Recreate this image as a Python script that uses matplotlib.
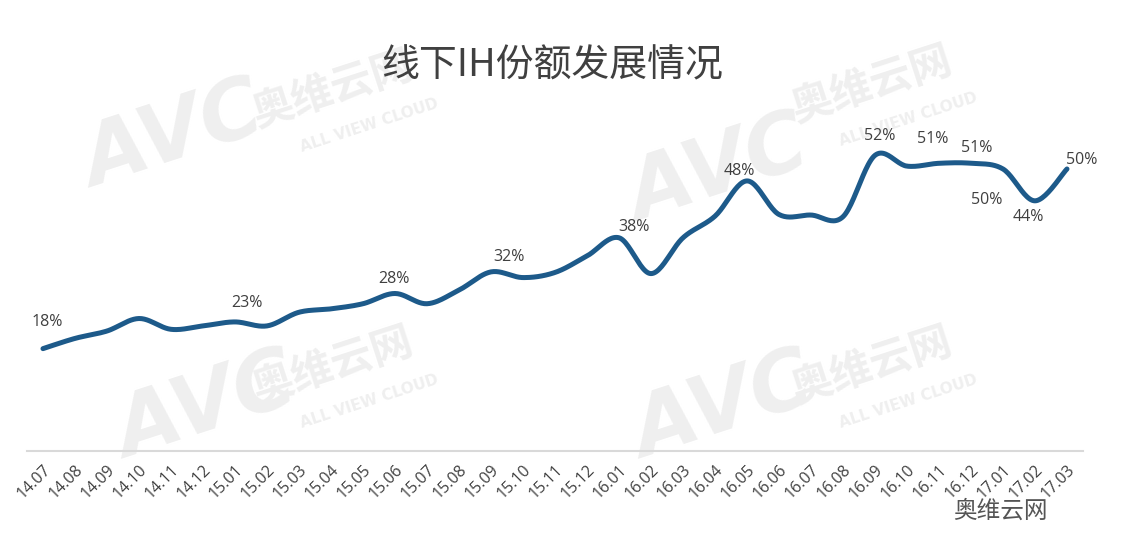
import numpy as np
import matplotlib.pyplot as plt

plt.rcParams['font.family'] = ['Noto Sans CJK SC', 'DejaVu Sans']

# monthly data, 14.07 .. 17.03
months = ['14.07', '14.08', '14.09', '14.10', '14.11', '14.12',
          '15.01', '15.02', '15.03', '15.04', '15.05', '15.06',
          '15.07', '15.08', '15.09', '15.10', '15.11', '15.12',
          '16.01', '16.02', '16.03', '16.04', '16.05', '16.06',
          '16.07', '16.08', '16.09', '16.10', '16.11', '16.12',
          '17.01', '17.02', '17.03']
share = [18.0, 19.8, 21.1, 23.3, 21.4, 22.0,
         22.7, 22.0, 24.4, 25.0, 25.9, 27.7,
         25.9, 28.3, 31.5, 30.5, 31.4, 34.3,
         37.5, 31.2, 37.5, 41.3, 47.5, 41.6,
         41.5, 41.2, 52.0, 50.1, 50.6, 50.6,
         49.6, 44.0, 49.6]
labeled = [0, 6, 11, 14, 18, 22, 26, 28, 29, 30, 31, 32]

# label offsets in pixels (dx, dy), tuned by eye
offsets = {0: (4, 27), 6: (12, 19), 11: (-1, 14), 14: (18, 15),
           18: (15, 11), 22: (-8, 10), 26: (5, 19), 28: (-6, 24),
           29: (6, 15), 30: (-16, -31), 31: (-7, -16), 32: (15, 9)}

line_color = '#1d5a8a'
text_color = '#404040'


def catmull_rom(x, y, steps=24):
    # smoothed line like excel's "smooth line" option
    x = np.asarray(x, float)
    y = np.asarray(y, float)
    px = np.concatenate([[x[0]], x, [x[-1]]])
    py = np.concatenate([[y[0]], y, [y[-1]]])
    xs, ys = [], []
    t = np.linspace(0, 1, steps, endpoint=False)
    for i in range(1, len(px) - 2):
        for arr, out in ((px, xs), (py, ys)):
            p0, p1, p2, p3 = arr[i - 1], arr[i], arr[i + 1], arr[i + 2]
            out.extend(0.5 * (2 * p1 + (-p0 + p2) * t
                              + (2 * p0 - 5 * p1 + 4 * p2 - p3) * t ** 2
                              + (-p0 + 3 * p1 - 3 * p2 + p3) * t ** 3))
    xs.append(x[-1])
    ys.append(y[-1])
    return np.array(xs), np.array(ys)


fig = plt.figure(figsize=(11.24, 5.52), dpi=100)

# background layer for the faint watermarks
bg = fig.add_axes([0, 0, 1, 1], zorder=0)
bg.set_axis_off()
wm = '#efefef'
for (x, y) in [(0.065, 0.66), (0.55, 0.6), (0.095, 0.17), (0.555, 0.17)]:
    bg.text(x, y, 'AVC', fontsize=60, fontweight='bold', style='italic',
            color=wm, rotation=18, family='DejaVu Sans')
for (x, y) in [(0.22, 0.77), (0.70, 0.78), (0.22, 0.27), (0.70, 0.27)]:
    bg.text(x, y, '奥维云网', fontsize=30, fontweight='bold', color=wm, rotation=18)
    bg.text(x + 0.045, y - 0.045, 'ALL VIEW CLOUD', fontsize=11, fontweight='bold',
            color=wm, rotation=18, family='DejaVu Sans')

ax = fig.add_axes([0.024, 0.183, 0.9395, 0.618], zorder=2)
xi = np.arange(len(months))
sx, sy = catmull_rom(xi, share)
ax.plot(sx, sy, color=line_color, lw=3.6, solid_capstyle='round', zorder=3)

for i in labeled:
    dx, dy = offsets[i]
    ax.annotate(f'{share[i]:.0f}%', (xi[i], share[i]), xytext=(dx, dy),
                textcoords='offset pixels', ha='center', va='center',
                fontsize=11.5, color=text_color, family='Open Sans', zorder=4)

ax.set_xlim(-0.5, len(months) - 0.5)
ax.set_ylim(0, 60)
ax.set_xticks(xi)
ax.set_xticklabels(months, rotation=45, ha='right', rotation_mode='anchor',
                   fontsize=11.5, color=text_color, family='Open Sans')
ax.tick_params(axis='x', length=0, pad=8)
ax.set_yticks([])
for s in ['top', 'left', 'right']:
    ax.spines[s].set_visible(False)
ax.spines['bottom'].set_color('#d9d9d9')
ax.spines['bottom'].set_linewidth(1.5)
ax.patch.set_alpha(0)

fig.text(0.491, 0.88, '线下IH份额发展情况', fontsize=27.3, color=text_color,
         ha='center', va='center')
fig.text(0.89, 0.073, '奥维云网', fontsize=17, color='#555555',
         ha='center', va='center')

fig.savefig('out.png', dpi=100)
